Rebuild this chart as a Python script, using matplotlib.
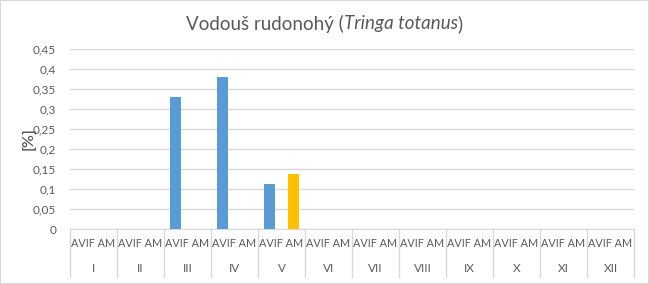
import matplotlib.pyplot as plt
import matplotlib.transforms as mtransforms
from matplotlib.patches import Rectangle
import numpy as np

plt.rcParams['font.family'] = ['Lato', 'DejaVu Sans']

# data
months = ['I', 'II', 'III', 'IV', 'V', 'VI', 'VII', 'VIII', 'IX', 'X', 'XI', 'XII']
series = ['AVIF', 'AM']
avif = [0, 0, 0.33, 0.38, 0.113, 0, 0, 0, 0, 0, 0, 0]
am = [0, 0, 0, 0, 0.138, 0, 0, 0, 0, 0, 0, 0]
yticks = [0, 0.05, 0.1, 0.15, 0.2, 0.25, 0.3, 0.35, 0.4, 0.45]
title_parts = [('Vodouš rudonohý (', 'normal'), ('Tringa totanus', 'italic'), (')', 'normal')]

txt = '#595959'
grid = '#d9d9d9'

fig = plt.figure(figsize=(6.49, 2.84), dpi=100)
ax = fig.add_axes([70 / 649, 55 / 284, 564 / 649, 180 / 284])

x = np.arange(len(months))
ax.bar(2 * x, avif, width=0.47, color='#5b9bd5', zorder=3)
ax.bar(2 * x + 1, am, width=0.47, color='#ffc000', zorder=3)

ax.set_xlim(-0.5, 2 * len(months) - 0.5)
ax.set_ylim(0, 0.45)
ax.set_yticks(yticks)
ax.set_yticklabels([('%g' % v).replace('.', ',') for v in yticks], fontsize=8.5, color=txt)
ax.tick_params(axis='y', length=0, pad=10)
ax.set_xticks([])
ax.yaxis.grid(True, color=grid, linewidth=1)
ax.set_axisbelow(True)
for s in ['top', 'right', 'left']:
    ax.spines[s].set_visible(False)
ax.spines['bottom'].set_color(grid)

# multi-level category axis
trans = mtransforms.blended_transform_factory(ax.transData, ax.transAxes)
for i, m in enumerate(months):
    ax.text(2 * i + 0.5, -0.078, ' '.join(series), transform=trans, ha='center', va='center',
            fontsize=7.8, color=txt)
    ax.text(2 * i + 0.5, -0.218, m, transform=trans, ha='center', va='center',
            fontsize=8.5, color=txt)
for i in range(len(months) + 1):
    ax.plot([2 * i - 0.5, 2 * i - 0.5], [0, -0.267], transform=trans, color=grid,
            linewidth=1, clip_on=False)

ax.set_ylabel('[%]', fontsize=11.5, color=txt, fontweight='semibold')
ax.yaxis.set_label_coords(-34 / 564, 0.5)

# title with italic species name
renderer = fig.canvas.get_renderer()
pieces = [fig.text(0, 1 - 24 / 284, t, style=st, ha='left', va='center', fontsize=13.5, color=txt)
          for t, st in title_parts]
widths = [p.get_window_extent(renderer).width for p in pieces]
xpos = (fig.bbox.width - sum(widths)) / 2
for p, w in zip(pieces, widths):
    p.set_x(xpos / fig.bbox.width)
    xpos += w

fig.patches.append(Rectangle((0, 0), 1, 1, transform=fig.transFigure, fill=False,
                             edgecolor=grid, linewidth=1.5))

fig.savefig('out.png', dpi=100)
